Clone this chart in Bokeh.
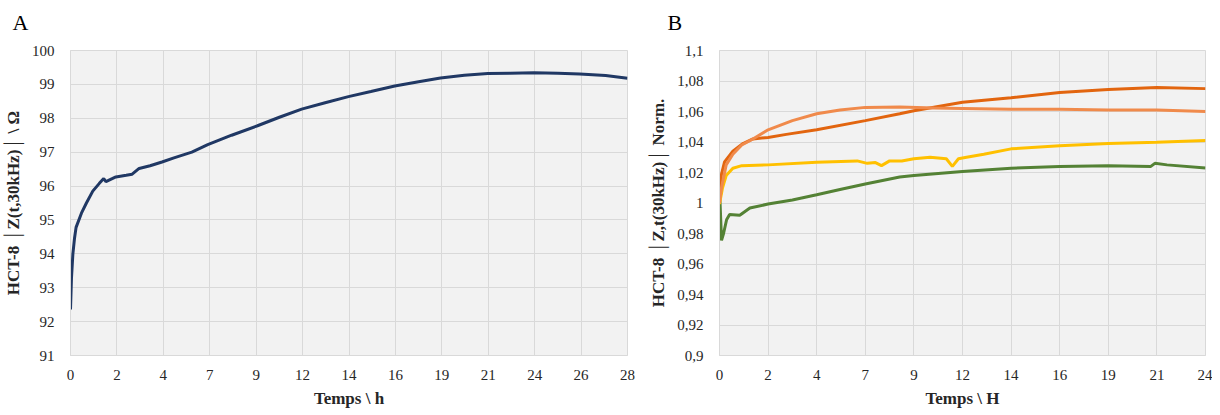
from bokeh.plotting import figure
from bokeh.layouts import row
from bokeh.models import FixedTicker, CustomJSTickFormatter, Range1d, Title
from bokeh.embed import file_html
from bokeh.resources import INLINE

# ---------- Panel A data ----------
a_hours = [0, 0.05, 0.12, 0.2, 0.28, 0.55, 0.8, 1.12, 1.45, 1.67, 1.78, 2.28, 2.8, 3.1, 3.45,
           4.0, 4.6, 5.2, 6.1, 6.9, 8.1, 9.4, 10.5, 11.62, 12.8, 13.97, 15.1, 16.3, 17.5, 18.6,
           19.8, 20.98, 22.1, 23.3, 24.5, 25.6, 26.9, 28.0]
a_impedance = [92.36, 93.3, 94.0, 94.45, 94.78, 95.2, 95.5, 95.85, 96.08, 96.22, 96.13, 96.27,
               96.32, 96.35, 96.52, 96.6, 96.71, 96.83, 97.0, 97.22, 97.5, 97.78, 98.03, 98.27,
               98.46, 98.64, 98.79, 98.95, 99.08, 99.19, 99.27, 99.32, 99.33, 99.34, 99.33,
               99.31, 99.26, 99.18]
a_xlabels = ["0", "2", "4", "7", "9", "12", "14", "16", "19", "21", "24", "26", "28"]

# ---------- Panel B data ----------
b_dark_h = [0, 0.1, 0.25, 0.66, 1.16, 1.65, 2.4, 3.3, 4.8, 7.2, 8.9, 9.6, 12, 14.4, 16.8, 19.2,
            21.6, 24]
b_dark = [1.010, 1.019, 1.027, 1.034, 1.039, 1.042, 1.043, 1.045, 1.048, 1.054, 1.0585, 1.0605,
          1.066, 1.069, 1.0725, 1.0745, 1.0757, 1.075]

b_light_h = [0, 0.1, 0.33, 0.66, 1.1, 1.65, 2.4, 3.6, 4.8, 5.95, 7.2, 8.9, 10.6, 12, 14.4,
             16.8, 19.2, 21.6, 24]
b_light = [1.000, 1.010, 1.025, 1.032, 1.038, 1.042, 1.048, 1.054, 1.0585, 1.061, 1.0627, 1.063,
           1.0623, 1.062, 1.0615, 1.0615, 1.061, 1.061, 1.060]

b_yellow_h = [0, 0.15, 0.33, 0.66, 1.1, 2.4, 4.8, 6.8, 7.3, 7.7, 8.0, 8.4, 9.0, 9.6, 10.4,
              11.2, 11.5, 11.8, 12.2, 13.05, 14.4, 16.8, 19.2, 21.6, 24]
b_yellow = [0.9993, 1.010, 1.018, 1.0228, 1.0245, 1.025, 1.0267, 1.0276, 1.026, 1.0265, 1.0245,
            1.0276, 1.0275, 1.029, 1.030, 1.029, 1.024, 1.029, 1.030, 1.032, 1.0355, 1.0376,
            1.039, 1.0398, 1.041]

b_green_h = [0, 0.1, 0.2, 0.35, 0.5, 1.0, 1.5, 2.4, 3.6, 4.8, 5.95, 7.2, 8.9, 9.6, 12, 14.4,
             16.8, 19.2, 21.3, 21.5, 22.1, 24]
b_green = [1.0098, 0.9755, 0.980, 0.989, 0.9924, 0.992, 0.9967, 0.9993, 1.002, 1.0054, 1.0088,
           1.0124, 1.017, 1.018, 1.0206, 1.0228, 1.024, 1.0245, 1.024, 1.026, 1.025, 1.023]
b_xlabels = ["0", "2", "4", "7", "9", "12", "14", "16", "19", "21", "24"]
b_ylabels = ["0,9", "0,92", "0,94", "0,96", "0,98", "1", "1,02", "1,04", "1,06", "1,08", "1,1"]

FONT = "Liberation Serif"
GRID = "#d9d9d9"
BG = "#f2f2f2"


def style(p, title, offset):
    p.background_fill_color = BG
    p.border_fill_color = "white"
    p.outline_line_color = GRID
    p.xgrid.grid_line_color = GRID
    p.ygrid.grid_line_color = GRID
    for ax in (p.xaxis, p.yaxis):
        ax.axis_line_color = GRID
        ax.major_tick_line_color = None
        ax.minor_tick_line_color = None
        ax.major_label_text_font = FONT
        ax.major_label_text_font_size = "15px"
        ax.major_label_text_color = "#262626"
        ax.axis_label_text_font = FONT
        ax.axis_label_text_font_size = "17px"
        ax.axis_label_text_font_style = "bold"
        ax.axis_label_text_color = "#262626"
    p.xaxis.major_label_standoff = 8
    p.yaxis.major_label_standoff = 10
    p.xaxis.axis_label_standoff = 6
    p.yaxis.axis_label_standoff = 6
    # panel letter, with a small spacer title between it and the frame
    p.title.text = title
    p.title.align = "left"
    p.title.offset = offset
    p.title.text_font = FONT
    p.title.text_font_size = "22px"
    p.title.text_font_style = "normal"
    p.title.text_color = "#000000"
    p.add_layout(Title(text=" ", text_font_size="8px", standoff=0), "above")


# ---------- Figure A ----------
pa = figure(width=640, height=410, output_backend="svg", toolbar_location=None,
            x_range=Range1d(0, 28), y_range=Range1d(91, 100),
            min_border_left=70, min_border_right=13, min_border_top=50, min_border_bottom=52)
style(pa, "A", -58)
na = len(a_xlabels) - 1
pa.xaxis.ticker = FixedTicker(ticks=[28 * k / na for k in range(na + 1)])
pa.xaxis.formatter = CustomJSTickFormatter(args=dict(labels=a_xlabels, n=na),
                                           code="return labels[Math.round(tick*n/28)];")
pa.yaxis.ticker = FixedTicker(ticks=list(range(91, 101)))
pa.xaxis.axis_label = "Temps \\ h"
pa.yaxis.axis_label = "HCT-8 │Z(t,30kHz)│ \\ Ω"
pa.line(a_hours, a_impedance, line_color="#203864", line_width=3)

# ---------- Figure B ----------
pb = figure(width=572, height=410, output_backend="svg", toolbar_location=None,
            x_range=Range1d(0, 24), y_range=Range1d(0.9, 1.1),
            min_border_left=79, min_border_right=7, min_border_top=50, min_border_bottom=52)
style(pb, "B", -52)
nb = len(b_xlabels) - 1
pb.xaxis.ticker = FixedTicker(ticks=[24 * k / nb for k in range(nb + 1)])
pb.xaxis.formatter = CustomJSTickFormatter(args=dict(labels=b_xlabels, n=nb),
                                           code="return labels[Math.round(tick*n/24)];")
pb.yaxis.ticker = FixedTicker(ticks=[0.9 + 0.02 * k for k in range(len(b_ylabels))])
pb.yaxis.formatter = CustomJSTickFormatter(args=dict(labels=b_ylabels),
                                           code="return labels[Math.round((tick-0.9)/0.02)];")
pb.xaxis.axis_label = "Temps \\ H"
pb.yaxis.axis_label = "HCT-8 │Z,t(30kHz)│ Norm."
pb.line(b_green_h, b_green, line_color="#548235", line_width=3)
pb.line(b_yellow_h, b_yellow, line_color="#FFC000", line_width=3)
pb.line(b_dark_h, b_dark, line_color="#E2650F", line_width=3)
pb.line(b_light_h, b_light, line_color="#F08A4B", line_width=3)

layout = row(pa, pb)
open("out.html", "w").write(file_html(layout, INLINE))
